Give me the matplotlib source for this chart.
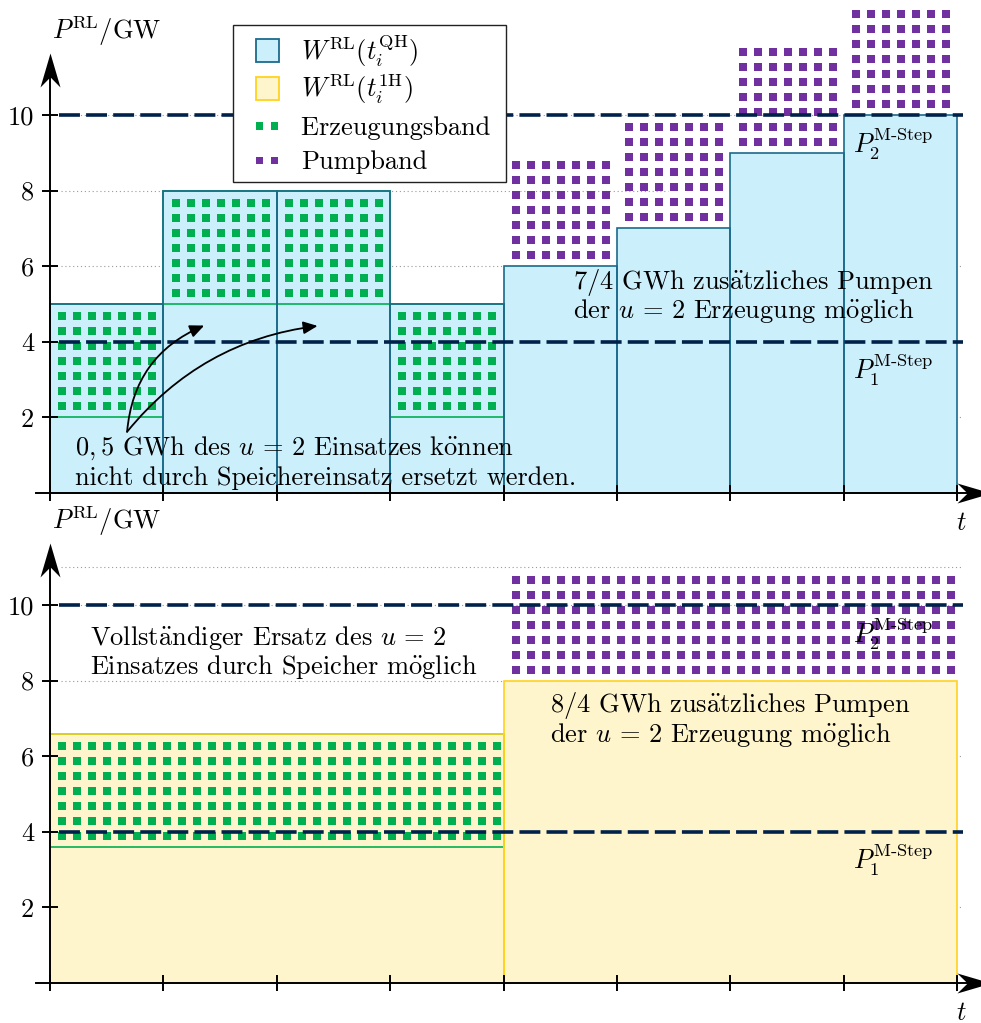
import matplotlib

matplotlib.use("Agg")
import matplotlib.pyplot as plt
import numpy as np
from matplotlib.legend_handler import HandlerPatch
from matplotlib.patches import Patch, PathPatch, Rectangle
from matplotlib.path import Path

plt.rcParams["font.family"] = ["cmr10", "DejaVu Serif"]
plt.rcParams["mathtext.fontset"] = "cm"
plt.rcParams["axes.unicode_minus"] = False

# ---- data -------------------------------------------------------------
qh_start = [0, 1, 2, 3, 4, 5, 6, 7]          # quarter hours
qh_load = [5, 8, 8, 5, 6, 7, 9, 10]
qh_gen_start = [0, 1, 2, 3]
qh_gen_low = [2, 5, 5, 2]                    # Erzeugungsband
qh_pump_start = [4, 5, 6, 7]
qh_pump_low = [6, 7, 9, 10]                  # Pumpband

h_start = [0, 4]                             # full hours
h_width = 4
h_load = [6.6, 8.0]
h_gen_start = [0]
h_gen_low = [3.6]
h_pump_start = [4]
h_pump_low = [8.0]

band_height = 3.0
p_step = [4, 10]                             # P1, P2 M-Step
y_ticks = [2, 4, 6, 8, 10]
x_ticks = [0, 1, 2, 3, 4, 5, 6, 7, 8]
grid_top = [2, 4, 6, 8, 10]
grid_bottom = [2, 4, 6, 8, 10, 11]

# ---- style ------------------------------------------------------------
BLUE_FILL = "#CCEFFC"
BLUE_EDGE = "#1B6B8C"
YEL_FILL = "#FFF5CC"
YEL_EDGE = "#FFD21F"
GREEN = "#00B050"
PURPLE = "#7030A0"
NAVY = "#00214A"
FS = 19
EQ = r"u\,=\,2"

W, H = 981, 1023
X0PX, XSCALE, YSCALE = 50.0, 113.375, 37.8
XLIM = (-0.44, 8.32)


def axes_rect(ylim, y0px):
    left = X0PX + XLIM[0] * XSCALE
    right = X0PX + XLIM[1] * XSCALE
    bottom = y0px - ylim[0] * YSCALE
    top = y0px - ylim[1] * YSCALE
    return [left / W, 1 - bottom / H, (right - left) / W, (bottom - top) / H]


def stealth(direction):
    L, Wd = 34.0, 20.0
    pts = [(0, 0), (-L, Wd / 2), (-0.7 * L, 0), (-L, -Wd / 2), (0, 0)]
    if direction == "up":
        pts = [(-y, x) for x, y in pts]
    codes = [Path.MOVETO, Path.LINETO, Path.LINETO, Path.LINETO, Path.CLOSEPOLY]
    return Path(pts, codes)


def dot_band(ax, x0, x1, y0, y1, color):
    xs = np.arange(x0 + 12.3 / XSCALE, x1 - 3.5 / XSCALE, 15 / XSCALE)
    ys = np.arange(y0 + 11 / YSCALE, y1 - 3.5 / YSCALE, 15 / YSCALE)
    gx, gy = np.meshgrid(xs, ys)
    ax.plot(gx.ravel(), gy.ravel(), ls="none", marker="s", ms=5.3, mew=0,
            color=color, zorder=3, clip_on=False)


def setup_axes(ax, ylim, grid):
    ax.set_xlim(*XLIM)
    ax.set_ylim(*ylim)
    ax.set_facecolor("none")
    for side in ("top", "right"):
        ax.spines[side].set_visible(False)
    ax.spines["left"].set_position(("data", 0))
    ax.spines["bottom"].set_position(("data", 0))
    ax.spines["left"].set_bounds(-0.13, 11.4)
    ax.spines["bottom"].set_bounds(-0.12, 8.1)
    for side in ("left", "bottom"):
        ax.spines[side].set_linewidth(1.4)
        ax.spines[side].set_zorder(10)
    ax.xaxis.set_zorder(10)
    ax.yaxis.set_zorder(10)
    ax.set_xticks(x_ticks)
    ax.set_xticklabels([])
    ax.set_yticks(y_ticks)
    ax.set_yticklabels([str(v) for v in y_ticks])
    ax.tick_params(direction="inout", length=11, width=1.4, labelsize=FS, pad=6)
    grid_end = [5.45 if g == 8 else 8.05 for g in grid]
    ax.hlines(grid, 0.1, grid_end, colors="#9a9a9a", linestyles=(0, (1, 2.5)),
              lw=0.8, zorder=0.5)
    ax.hlines(p_step, 0.08, 8.05, colors=NAVY, lw=2.6, zorder=6,
              linestyles=[(0, (5.8, 1.7))])
    ax.plot([8.3], [0], marker=stealth("right"), ms=49, mew=0, color="black",
            clip_on=False, zorder=11)
    ax.plot([0], [11.64], marker=stealth("up"), ms=49, mew=0, color="black",
            clip_on=False, zorder=11)
    ax.text(0.02, 12.0, r"$P^{\mathrm{RL}}/\mathrm{GW}$", fontsize=FS,
            va="baseline", ha="left")
    ax.text(8.04, -0.98, r"$t$", fontsize=FS, va="baseline", ha="center")
    ax.text(7.08, 9.0, r"$P_2^{\mathrm{M}\text{-}\mathrm{Step}}$", fontsize=FS,
            va="baseline", ha="left", zorder=7)
    ax.text(7.08, 3.0, r"$P_1^{\mathrm{M}\text{-}\mathrm{Step}}$", fontsize=FS,
            va="baseline", ha="left", zorder=7)


# legend handles: a square box at the right of the handle area, or two dots
def square_handle(legend, orig_handle, xdescent, ydescent, width, height, fontsize):
    s = 16.5
    return Rectangle((width - xdescent - s, -ydescent + (height - s) / 2), s, s)


def dots_handle(legend, orig_handle, xdescent, ydescent, width, height, fontsize):
    d = 5.3
    yc = -ydescent + height / 2
    verts, codes = [], []
    for xc in (width - xdescent - 14.1, width - xdescent - 3.3):
        verts += [(xc - d / 2, yc - d / 2), (xc + d / 2, yc - d / 2),
                  (xc + d / 2, yc + d / 2), (xc - d / 2, yc + d / 2), (0, 0)]
        codes += [Path.MOVETO, Path.LINETO, Path.LINETO, Path.LINETO, Path.CLOSEPOLY]
    return PathPatch(Path(verts, codes))


fig = plt.figure(figsize=(W / 100, H / 100), dpi=100)

# ---- top: quarter-hour resolution -------------------------------------
ylim_top = (-1.2, 13.05)
ax1 = fig.add_axes(axes_rect(ylim_top, 493.0))
setup_axes(ax1, ylim_top, grid_top)

ax1.bar(qh_start, qh_load, width=1, align="edge", color=BLUE_FILL,
        edgecolor="none", zorder=1)
for x0, lo in zip(qh_gen_start, qh_gen_low):
    ax1.add_patch(Rectangle((x0, lo), 1, band_height, facecolor="none",
                            edgecolor=GREEN, lw=1.2, zorder=2))
    dot_band(ax1, x0, x0 + 1, lo, lo + band_height, GREEN)
for x0, lo in zip(qh_pump_start, qh_pump_low):
    dot_band(ax1, x0, x0 + 1, lo, lo + band_height, PURPLE)
ax1.bar(qh_start, qh_load, width=1, align="edge", color="none",
        edgecolor=BLUE_EDGE, lw=1.2, zorder=4)

arrow_kw = dict(arrowstyle="-|>,head_length=0.45,head_width=0.2", color="black",
                lw=1.3, shrinkA=0, shrinkB=0)
ax1.annotate("", xy=(1.36, 4.43), xytext=(0.68, 1.62), fontsize=FS,
             arrowprops=dict(connectionstyle="arc3,rad=-0.3", **arrow_kw), zorder=7)
ax1.annotate("", xy=(2.36, 4.42), xytext=(0.68, 1.62), fontsize=FS,
             arrowprops=dict(connectionstyle="arc3,rad=-0.2", **arrow_kw), zorder=7)

ax1.text(0.22, 1.02, rf"$0,5$ GWh des ${EQ}$ Einsatzes k$\ddot{{\mathrm{{o}}}}$nnen",
         fontsize=FS, va="baseline", zorder=7)
ax1.text(0.22, 0.21, "nicht durch Speichereinsatz ersetzt werden.",
         fontsize=FS, va="baseline", zorder=7)
ax1.text(4.61, 5.40, r"7/4 GWh zus$\ddot{\mathrm{a}}$tzliches Pumpen",
         fontsize=FS, va="baseline", zorder=7)
ax1.text(4.61, 4.62, rf"der ${EQ}$ Erzeugung m$\ddot{{\mathrm{{o}}}}$glich",
         fontsize=FS, va="baseline", zorder=7)

handles = [
    Patch(facecolor=BLUE_FILL, edgecolor=BLUE_EDGE, lw=1.3),
    Patch(facecolor=YEL_FILL, edgecolor=YEL_EDGE, lw=1.3),
    Patch(facecolor=GREEN, edgecolor="none", lw=0),
    Patch(facecolor=PURPLE, edgecolor="none", lw=0),
]
labels = [r"$W^{\mathrm{RL}}(t_i^{\mathrm{QH}})$", r"$W^{\mathrm{RL}}(t_i^{\mathrm{1H}})$",
          "Erzeugungsband ", "Pumpband"]
box_h = HandlerPatch(patch_func=square_handle)
dot_h = HandlerPatch(patch_func=dots_handle)
leg = fig.legend(handles, labels, loc="upper left",
                 bbox_to_anchor=(233 / W, 1 - 25 / H), bbox_transform=fig.transFigure,
                 fontsize=FS, frameon=True, fancybox=False, framealpha=1,
                 edgecolor="#222222", borderaxespad=0, borderpad=0.25,
                 handlelength=1.5, handleheight=1.4, handletextpad=0.83,
                 labelspacing=0.16,
                 handler_map={handles[0]: box_h, handles[1]: box_h,
                              handles[2]: dot_h, handles[3]: dot_h})
leg.get_frame().set_linewidth(1.0)
leg.set_zorder(20)

# ---- bottom: hourly resolution ----------------------------------------
ylim_bot = (-1.2, 11.8)
ax2 = fig.add_axes(axes_rect(ylim_bot, 983.0))
setup_axes(ax2, ylim_bot, grid_bottom)

ax2.bar(h_start, h_load, width=h_width, align="edge", color=YEL_FILL,
        edgecolor="none", zorder=1)
for x0, lo in zip(h_gen_start, h_gen_low):
    ax2.add_patch(Rectangle((x0, lo), h_width, band_height, facecolor="none",
                            edgecolor=GREEN, lw=1.2, zorder=2))
    dot_band(ax2, x0, x0 + h_width, lo, lo + band_height, GREEN)
for x0, lo in zip(h_pump_start, h_pump_low):
    dot_band(ax2, x0, x0 + h_width, lo, lo + band_height, PURPLE)
ax2.bar(h_start, h_load, width=h_width, align="edge", color="none",
        edgecolor=YEL_EDGE, lw=1.2, zorder=4)

ax2.text(0.35, 8.94, rf"Vollst$\ddot{{\mathrm{{a}}}}$ndiger Ersatz des ${EQ}$",
         fontsize=FS, va="baseline", zorder=7)
ax2.text(0.35, 8.17, r"Einsatzes durch Speicher m$\ddot{\mathrm{o}}$glich",
         fontsize=FS, va="baseline", zorder=7)
ax2.text(4.41, 7.18, r"8/4 GWh zus$\ddot{\mathrm{a}}$tzliches Pumpen",
         fontsize=FS, va="baseline", zorder=7)
ax2.text(4.41, 6.38, rf"der ${EQ}$ Erzeugung m$\ddot{{\mathrm{{o}}}}$glich",
         fontsize=FS, va="baseline", zorder=7)

fig.savefig("out.png", dpi=100)
